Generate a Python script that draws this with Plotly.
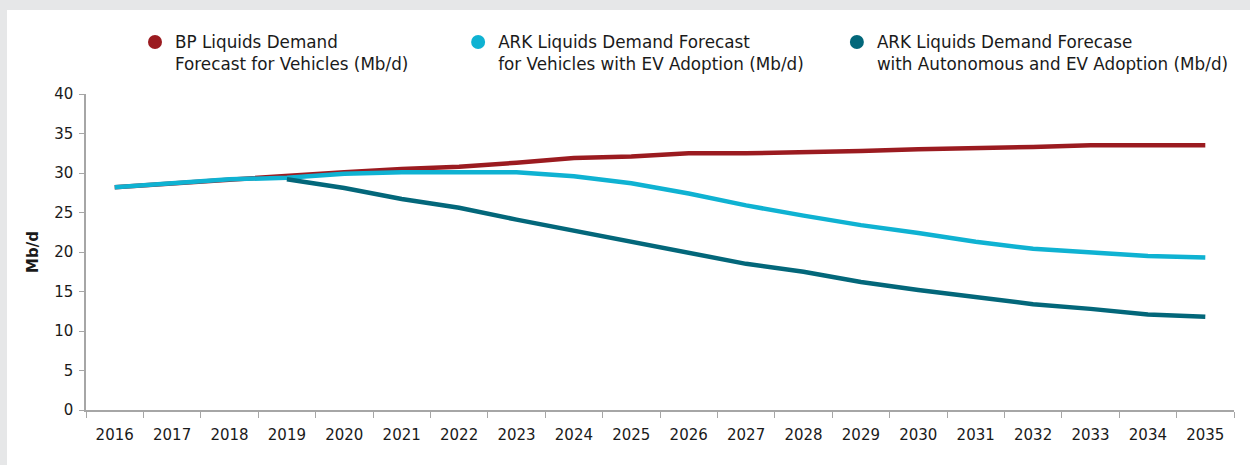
import plotly.graph_objects as go

years = [str(y) for y in range(2016, 2036)]

bp_demand = [28.2, 28.7, 29.2, 29.6, 30.1, 30.5, 30.8, 31.3, 31.9, 32.1,
             32.5, 32.5, 32.6, 32.8, 33.0, 33.1, 33.3, 33.5, 33.5, 33.5]
ark_ev = [28.2, 28.7, 29.2, 29.4, 29.9, 30.1, 30.1, 30.1, 29.6, 28.7,
          27.4, 25.9, 24.6, 23.4, 22.4, 21.3, 20.4, 19.9, 19.5, 19.3]
ark_auto_ev = [None, None, None, 29.2, 28.1, 26.7, 25.6, 24.1, 22.7, 21.3,
               20.0, 18.5, 17.5, 16.2, 15.2, 14.3, 13.4, 12.8, 12.1, 11.8]

series = [
    ("BP Liquids Demand<br>Forecast for Vehicles (Mb/d)", bp_demand, "#9b1b20", "legend"),
    ("ARK Liquids Demand Forecast<br>for Vehicles with EV Adoption (Mb/d)", ark_ev, "#0fb2d2", "legend2"),
    ("ARK Liquids Demand Forecase<br>with Autonomous and EV Adoption (Mb/d)", ark_auto_ev, "#03677a", "legend3"),
]

font_family = "'DejaVu Sans', sans-serif"

fig = go.Figure()

for name, values, color, lg in series:
    fig.add_trace(go.Scatter(
        x=years, y=values, mode="lines",
        line=dict(color=color, width=4.5),
        showlegend=False, hoverinfo="x+y", name=name,
    ))

# legend entries shown as round markers, one legend per entry
for name, values, color, lg in series:
    fig.add_trace(go.Scatter(
        x=[None], y=[None], mode="markers",
        marker=dict(color=color, size=14),
        name=name, showlegend=True, legend=lg,
    ))

legend_style = dict(
    orientation="h", xref="container", yref="container",
    xanchor="left", yanchor="middle", y=0.886, valign="top",
    font=dict(size=16.8), itemwidth=30, bgcolor="rgba(0,0,0,0)",
)

fig.update_layout(
    width=1250, height=465,
    margin=dict(l=86, r=16, t=94, b=55, autoexpand=False),
    paper_bgcolor="#e6e7e8",
    plot_bgcolor="white",
    font=dict(family=font_family, size=15, color="#1a1a1a"),
    legend=dict(legend_style, x=0.108),
    legend2=dict(legend_style, x=0.3665),
    legend3=dict(legend_style, x=0.6695),
    shapes=[dict(
        type="rect", xref="paper", yref="paper", layer="below",
        x0=-0.0688, x1=1.05, y0=-0.3, y1=1.266,
        fillcolor="white", line=dict(width=0),
    )],
)

fig.update_xaxes(
    type="category", range=[-0.5, 19.5], showgrid=False, showline=True,
    linecolor="#a6a6a6", linewidth=1.5,
    ticks="outside", tickson="boundaries", ticklen=6, tickcolor="#a6a6a6",
    tickfont=dict(size=15), ticklabelstandoff=10,
)
fig.update_yaxes(
    range=[0, 40], dtick=5, showgrid=False, zeroline=False, showline=True,
    linecolor="#a6a6a6", linewidth=1.5, ticks="outside", ticklen=5, tickcolor="#a6a6a6",
    tickfont=dict(size=15), ticklabelstandoff=3,
    title=dict(text="<b>Mb/d</b>", font=dict(size=15), standoff=12),
)

fig.write_html(
    "out.html",
    config={"displayModeBar": False},
    post_script="document.body.style.margin='0px';",
)
